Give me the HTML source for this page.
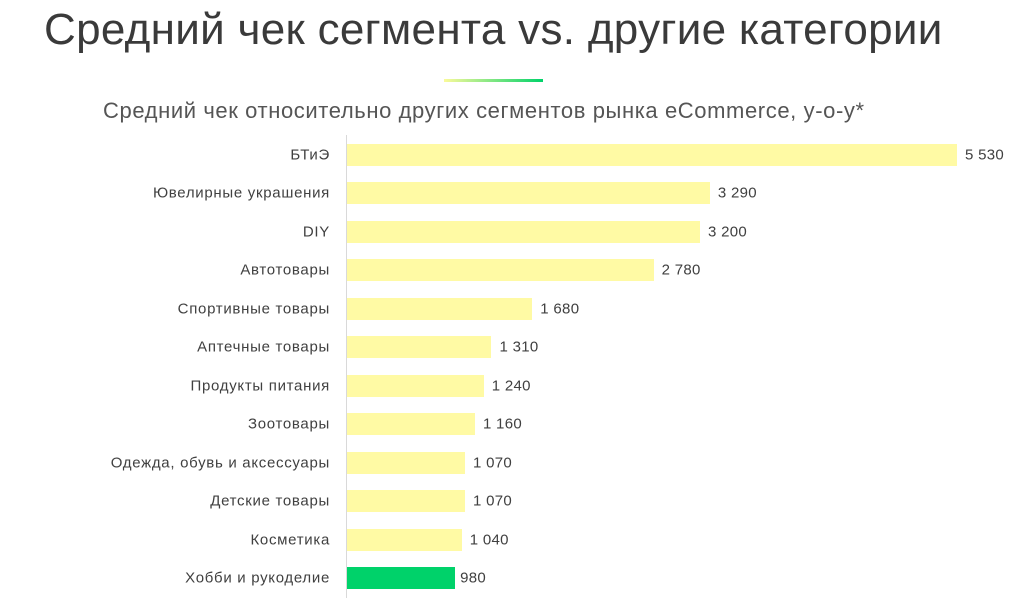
<!DOCTYPE html>
<html><head><meta charset="utf-8"><style>
body{margin:0;width:1024px;height:607px;background:#fff;overflow:hidden;font-family:"Liberation Sans",sans-serif;position:relative;color:#404040}
.t{position:absolute;left:44px;top:5px;font-size:44px;letter-spacing:0.3px;white-space:nowrap;color:#3a3a3a}
.s{position:absolute;left:103px;top:98px;font-size:22px;letter-spacing:0.6px;white-space:nowrap;color:#555}
.g{position:absolute;left:444px;top:79px;width:99px;height:3px;background:linear-gradient(90deg,#fafa9a,#00d26a)}
.ax{position:absolute;left:346px;top:135px;width:1px;height:463px;background:#d9d9d9}
.l{position:absolute;right:694px;font-size:15px;letter-spacing:0.7px;white-space:nowrap;transform:translateY(-50%)}
.b{position:absolute;left:347px;height:22px;background:#fffaa4}
.v{position:absolute;font-size:15px;letter-spacing:0.3px;white-space:nowrap;transform:translateY(-50%)}
</style></head><body>
<div class="t">Средний чек сегмента vs. другие категории</div>
<div class="g"></div>
<div class="s">Средний чек относительно других сегментов рынка eCommerce, y-o-y*</div>
<div class="ax"></div>
<div id="c"></div>
<script>
var d=[["БТиЭ",5530,"5 530"],["Ювелирные украшения",3290,"3 290"],["DIY",3200,"3 200"],["Автотовары",2780,"2 780"],["Спортивные товары",1680,"1 680"],["Аптечные товары",1310,"1 310"],["Продукты питания",1240,"1 240"],["Зоотовары",1160,"1 160"],["Одежда, обувь и аксессуары",1070,"1 070"],["Детские товары",1070,"1 070"],["Косметика",1040,"1 040"],["Хобби и рукоделие",980,"980"]];
var h="";d.forEach(function(r,i){var y=155+i*38.45,w=r[1]*0.1103;
h+='<div class="l" style="top:'+y+'px">'+r[0]+'</div><div class="b" style="top:'+(y-11)+'px;width:'+w+'px;'+(i==11?'background:#00d26a':'')+'"></div><div class="v" style="top:'+y+'px;left:'+(347+w+(i==11?5:8))+'px">'+r[2]+'</div>';});
document.getElementById("c").innerHTML=h;
</script>
</body></html>
